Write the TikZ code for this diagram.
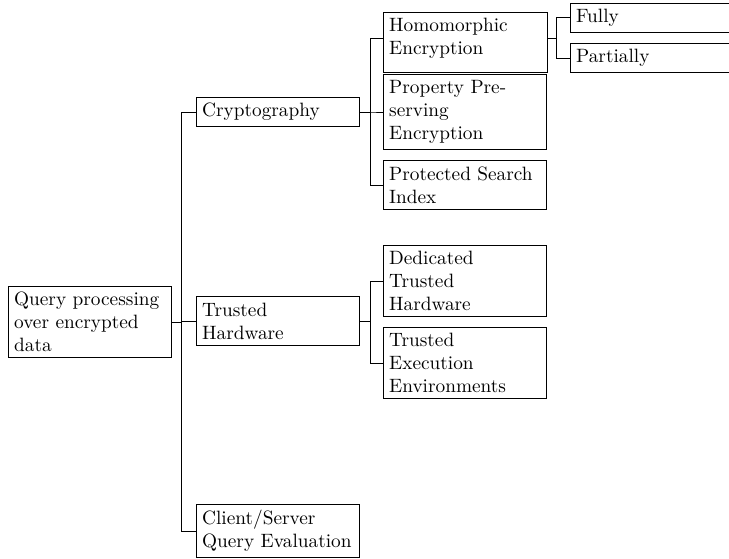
\documentclass[tikz,border=0pt]{standalone}
\begin{document}
\begin{tikzpicture}[
  x=0.5181pt, y=-0.5181pt,
  font=\fontsize{10pt}{12pt}\selectfont,
  box/.style={draw, line width=0.4pt, anchor=west, align=left,
    text width=78.6pt, inner xsep=3pt, inner ysep=3pt},
  plain/.style={box, draw=none},
  fork/.style={line width=0.4pt},
]
\useasboundingbox (0,0) rectangle (729,558);

% root
\node[box] (root) at (8,322) {Query processing\\over encrypted\\data};

% first level
\node[box] (crypto)  at (196,112) {Cryptography};
\node[box] (trusted) at (196,321) {Trusted\\Hardware};
\node[box] (cs)      at (196,531) {Client/Server\\Query Evaluation};

% cryptography branch
\node[plain] (hom) at (383,38.5) {Homomorphic\\Encryption};
\draw[line width=0.4pt] (hom.north west) rectangle ([yshift=-3.9pt]hom.south east);
\node[box] (ppe) at (383,112) {Property Pre-\\serving\\Encryption};
\node[box] (psi) at (383,185) {Protected Search\\Index};

% homomorphic variants
\node[box] (fully)     at (570,17.5) {Fully};
\node[box] (partially) at (570,58)   {Partially};

% trusted hardware branch
\node[box] (dth) at (383,281) {Dedicated\\Trusted\\Hardware};
\node[box] (tee) at (383,363) {Trusted\\Execution\\Environments};

% forked connectors
\foreach \p/\c in {root/crypto, root/trusted, root/cs}
  \draw[fork] (\p.east) -- ++(9,0) |- (\c.west);
\foreach \p/\c in {crypto/hom, crypto/ppe, crypto/psi, trusted/dth, trusted/tee}
  \draw[fork] (\p.east) -- ++(10,0) |- (\c.west);
\foreach \p/\c in {hom/fully, hom/partially}
  \draw[fork] (\p.east) -- ++(9,0) |- (\c.west);
\end{tikzpicture}
\end{document}
